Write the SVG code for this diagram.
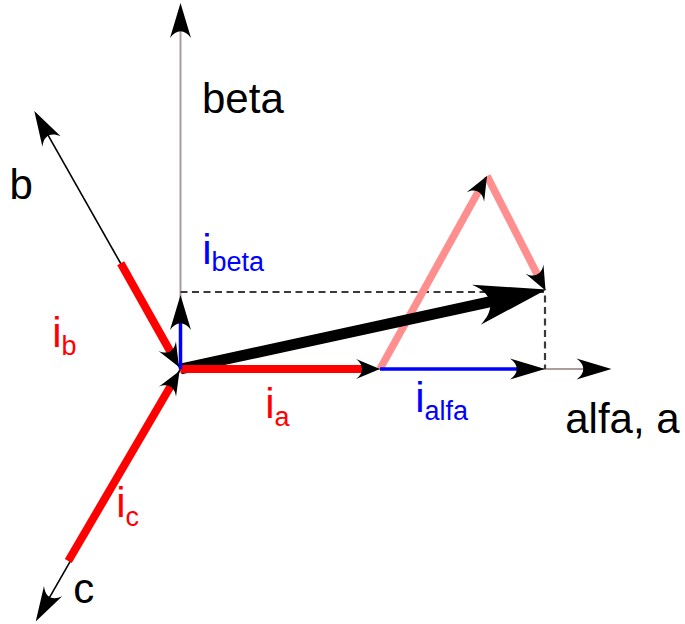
<svg xmlns="http://www.w3.org/2000/svg" width="685" height="624" viewBox="0 0 685 624">
<style>
  text { font-family: "Liberation Sans", Arial, Helvetica, sans-serif; font-size: 42px; }
  .k { fill: #000; }
  .rd { fill: #ff0000; }
  .bl { fill: #0000ff; }
  .sub { font-size: 27px; }
  .axis { stroke: #ab9d9d; stroke-width: 2; fill: none; }
  .thin { stroke: #000; stroke-width: 1.6; fill: none; }
  .dash { stroke: #3a3a3a; stroke-width: 2.2; stroke-dasharray: 7 4.5; fill: none; }
  .red { stroke: #ff0000; stroke-width: 8; fill: none; }
  .pink { stroke: #ff8f8f; stroke-width: 7.5; fill: none; }
  .blue { stroke: #0000ff; stroke-width: 3.5; fill: none; }
  .res { stroke: #000; stroke-width: 11; fill: none; }
  .head { fill: #000; stroke: none; }
</style>
<defs>
  <path id="ahL" class="head" d="M0,0 L-35,-10.5 C-26,-4 -26,4 -35,10.5 Z"/>
  <path id="ahS" class="head" d="M0,0 L-24,-10 C-16,-4 -16,4 -24,10 Z"/>
</defs>

<g id="axes">
  <g id="axis-beta">
    <line class="axis" x1="180.5" y1="369" x2="180.5" y2="25"/>
    <use href="#ahL" transform="translate(180.5,3) rotate(-90)"/>
  </g>
  <g id="axis-alfa">
    <line class="axis" x1="180.5" y1="369" x2="595" y2="369"/>
    <use href="#ahL" transform="translate(611.5,369)"/>
  </g>
  <g id="axis-b">
    <line class="thin" x1="180.5" y1="369" x2="43.2" y2="126.7"/>
    <use href="#ahL" transform="translate(34.3,111) rotate(-119.5)"/>
  </g>
  <g id="axis-c">
    <line class="thin" x1="180.5" y1="369" x2="44.7" y2="605.9"/>
    <use href="#ahL" transform="translate(35.7,621.5) rotate(119.8)"/>
  </g>
</g>

<g id="connectors">
  <path id="projections" class="dash" d="M180.5,292 H545 V369"/>
  <g id="pink-ic">
    <line class="pink" x1="380" y1="369" x2="480.2" y2="188.2"/>
  </g>
  <g id="pink-ib">
    <line class="pink" x1="487" y1="176" x2="539.1" y2="278"/>
  </g>
  <use href="#ahS" transform="translate(487,176) rotate(-61)"/>
  <use href="#ahS" transform="translate(545.5,290.5) rotate(62.9)"/>
  <g id="resultant">
    <line class="res" x1="180.5" y1="369" x2="497.6" y2="300.1"/>
    <use href="#ahL" transform="translate(546.5,289.5) rotate(-12.26) scale(2.05,1.95)"/>
  </g>
  <g id="vec-ib">
    <line class="red" x1="120.7" y1="263.3" x2="172.1" y2="354.8"/>
    <use href="#ahS" transform="translate(179,367) rotate(60.6)"/>
  </g>
  <g id="vec-ic">
    <line class="red" x1="68.3" y1="561" x2="172.4" y2="383.1"/>
    <use href="#ahS" transform="translate(179.5,371) rotate(-59.7)"/>
  </g>
  <g id="vec-ia">
    <line class="red" x1="180.5" y1="369" x2="366" y2="369"/>
    <use href="#ahS" transform="translate(380,369)"/>
  </g>
  <g id="vec-ialfa">
    <line class="blue" x1="380" y1="369" x2="525" y2="369"/>
    <use href="#ahL" transform="translate(545,369)"/>
  </g>
  <g id="vec-ibeta">
    <line class="blue" x1="180.5" y1="369" x2="180.5" y2="315"/>
    <use href="#ahL" transform="translate(180.5,295) rotate(-90)"/>
  </g>
</g>

<g id="labels">
  <text class="k" x="202" y="113">beta</text>
  <text class="k" x="9.6" y="199">b</text>
  <text class="k" x="565.2" y="432.5">alfa, a</text>
  <text class="k" x="73.3" y="603">c</text>
  <text class="bl" x="202.2" y="263.5">i<tspan class="sub" dy="7">beta</tspan></text>
  <text class="rd" x="52.2" y="347">i<tspan class="sub" dy="8">b</tspan></text>
  <text class="rd" x="265.2" y="418">i<tspan class="sub" dy="8">a</tspan></text>
  <text class="bl" x="415.2" y="411.7">i<tspan class="sub" dy="8">alfa</tspan></text>
  <text class="rd" x="116.2" y="517">i<tspan class="sub" dy="9">c</tspan></text>
</g>
</svg>
